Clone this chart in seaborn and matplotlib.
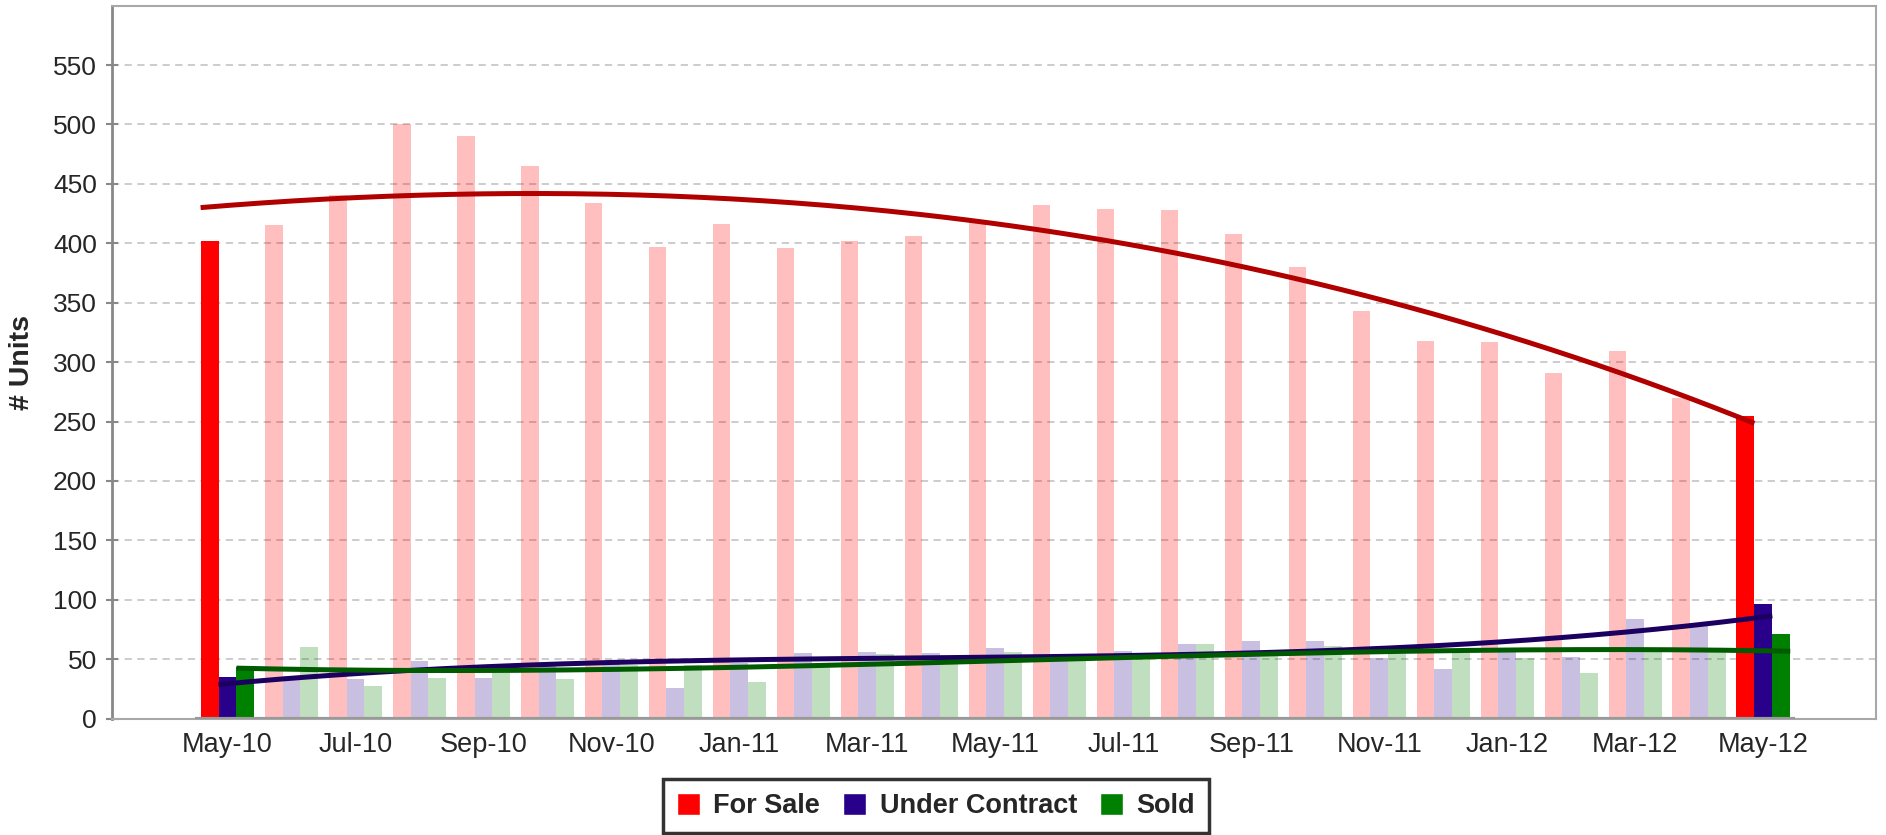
import numpy as np
import pandas as pd
import matplotlib.pyplot as plt
from matplotlib.patches import Patch
import seaborn as sns

# monthly unit counts, May-10 .. May-12
months = ["May-10", "Jun-10", "Jul-10", "Aug-10", "Sep-10", "Oct-10", "Nov-10", "Dec-10",
          "Jan-11", "Feb-11", "Mar-11", "Apr-11", "May-11", "Jun-11", "Jul-11", "Aug-11",
          "Sep-11", "Oct-11", "Nov-11", "Dec-11", "Jan-12", "Feb-12", "Mar-12", "Apr-12",
          "May-12"]
for_sale = [402, 415, 441, 500, 490, 465, 434, 397, 416, 396, 402, 406, 419, 432, 429, 428,
            408, 380, 343, 318, 317, 291, 309, 270, 255]
under_contract = [35, 36, 33, 48, 34, 47, 47, 26, 47, 55, 56, 55, 59, 54, 57, 63,
                  65, 65, 51, 42, 57, 52, 84, 79, 96]
sold = [43, 60, 27, 34, 39, 33, 45, 45, 31, 47, 54, 47, 56, 50, 52, 63,
        56, 61, 54, 56, 51, 38, 57, 57, 71]

series_names = ["For Sale", "Under Contract", "Sold"]
bar_colors = ["#FF0000", "#28008A", "#008000"]
trend_colors = ["#B00000", "#1C0060", "#005A00"]

sns.set_style("white")
plt.rcParams['font.family'] = ['Liberation Sans', 'DejaVu Sans']

n = len(months)
df = pd.DataFrame({
    "month": months * 3,
    "series": [s for s in series_names for _ in months],
    "units": for_sale + under_contract + sold,
})

fig = plt.figure(figsize=(18.86, 8.35), dpi=100)
ax = fig.add_axes([0.0592, 0.1395, 0.9355, 0.8537])

group_w = 0.84
sns.barplot(data=df, x="month", y="units", hue="series", hue_order=series_names,
            palette=bar_colors, width=group_w, gap=0, saturation=1, errorbar=None,
            legend=False, linewidth=0, zorder=2, ax=ax)

# only first and last month at full strength
for cont in ax.containers:
    for i, bar in enumerate(cont):
        if 0 < i < n - 1:
            bar.set_alpha(0.25)

# polynomial trend per series
bar_w = group_w / 3
x_idx = np.arange(n)
for k, (vals, col) in enumerate(zip([for_sale, under_contract, sold], trend_colors)):
    off = (k - 1) * bar_w
    coef = np.polyfit(x_idx + off, vals, 3)
    xs = np.linspace(off - bar_w / 2, n - 1 + off + bar_w / 2, 200)
    ax.plot(xs, np.polyval(coef, xs), color=col, lw=3.6, zorder=4, solid_capstyle='butt')

ax.set_xlim(-1.81, n - 1 + 1.76)
ax.set_ylim(0, 600)
ax.set_yticks(range(0, 551, 50))
ax.yaxis.grid(True, linestyle=(0, (4, 3)), color="#C8C8C8", lw=1.3)
ax.set_axisbelow(True)

ax.set_xticks(x_idx[::2], months[::2])
ax.set_xticks(x_idx[1::2], minor=True)
ax.tick_params(axis='x', which='major', length=0, pad=9.5, labelsize=19.5)
ax.tick_params(axis='x', which='minor', length=25, width=1.3, color='#A8A8A8', direction='out')
ax.tick_params(axis='y', length=8, width=1.5, color='#888888', direction='inout',
               pad=6.5, labelsize=19, left=True)

for side in ["top", "right", "bottom"]:
    ax.spines[side].set_color("#A8A8A8")
    ax.spines[side].set_linewidth(1.5)
ax.spines["left"].set_color("#888888")
ax.spines["left"].set_linewidth(2)
ax.hlines(0, -0.5, n - 0.5, color="#999999", lw=3, zorder=3)

ax.set_xlabel("")
ax.set_ylabel("# Units", fontsize=20.5, fontweight='bold', va='center')
ax.yaxis.set_label_coords(-0.0506, 0.5)

handles = [Patch(facecolor=c) for c in bar_colors]
leg = fig.legend(handles, series_names, loc='center', bbox_to_anchor=(0.4963, 0.0347), ncol=3,
                 frameon=True, fancybox=False, edgecolor='black',
                 prop={'weight': 'bold', 'size': 19.5}, handlelength=0.85, handleheight=0.85,
                 handletextpad=0.5, columnspacing=0.85, borderpad=0.5)
leg.get_frame().set_linewidth(2.5)

fig.savefig("out.png", dpi=100)
